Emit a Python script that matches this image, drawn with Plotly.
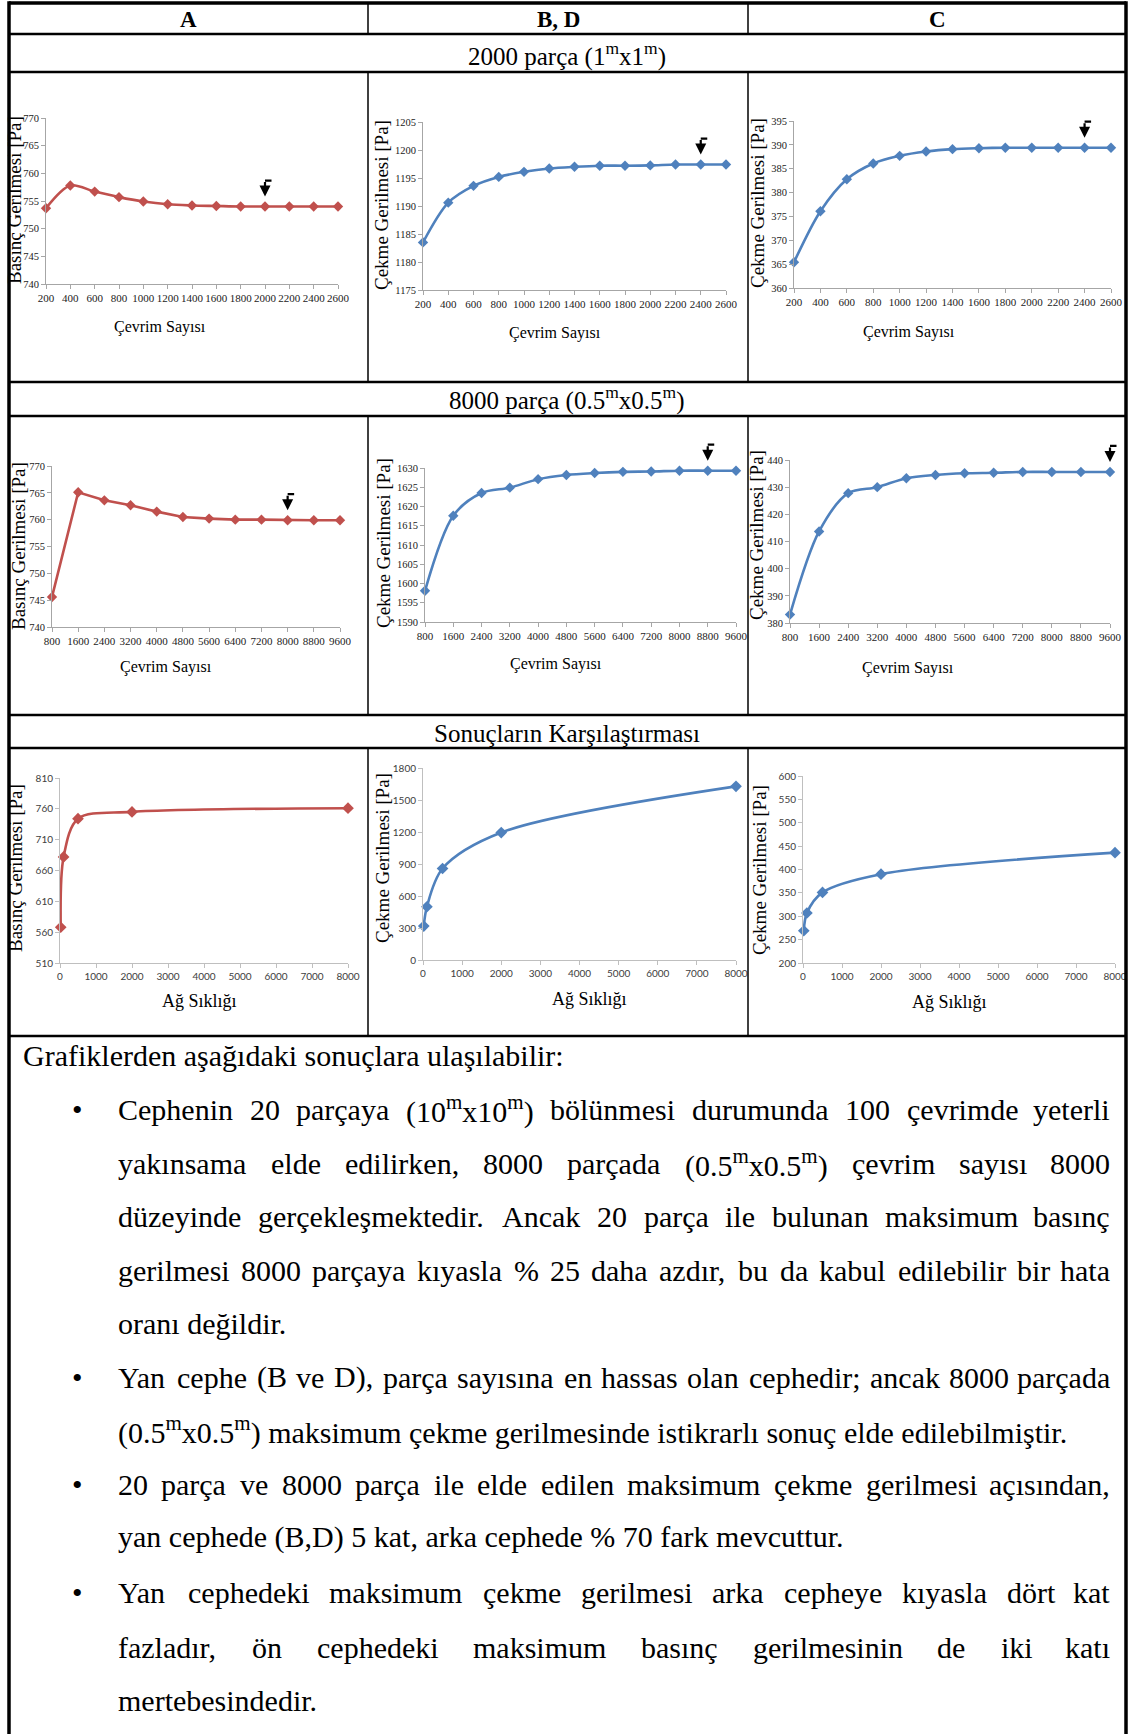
import re
import plotly.graph_objects as go

W, H = 1128, 1734
RED = "#C0504D"
BLUE = "#4F81BD"
SERIF = "Liberation Serif"
SANS = "Lato"

# ---------------- data ----------------
cycles_2000 = [200, 400, 600, 800, 1000, 1200, 1400, 1600, 1800, 2000, 2200, 2400, 2600]
a_2000 = [753.7, 757.8, 756.7, 755.7, 754.9, 754.4, 754.2, 754.1, 754.0, 754.0, 754.0, 754.0, 754.0]
bd_2000 = [1183.5, 1190.6, 1193.6, 1195.2, 1196.1, 1196.7, 1197.0, 1197.2, 1197.2, 1197.25, 1197.4, 1197.4, 1197.4]
c_2000 = [365.4, 376.1, 382.8, 386.1, 387.7, 388.6, 389.1, 389.3, 389.4, 389.4, 389.4, 389.4, 389.4]
conv_2000 = [2000, 2400, 2400]

cycles_8000 = [800, 1600, 2400, 3200, 4000, 4800, 5600, 6400, 7200, 8000, 8800, 9600]
a_8000 = [745.6, 765.1, 763.6, 762.7, 761.5, 760.5, 760.2, 760.0, 760.0, 759.9, 759.9, 759.9]
bd_8000 = [1598.1, 1617.6, 1623.5, 1624.9, 1627.1, 1628.2, 1628.7, 1629.0, 1629.1, 1629.3, 1629.3, 1629.3]
c_8000 = [383.1, 413.7, 427.8, 430.0, 433.3, 434.5, 435.1, 435.3, 435.6, 435.6, 435.6, 435.6]
conv_8000 = [8000, 8800, 9600]

mesh = [20, 100, 500, 2000, 8000]
a_mesh = [568, 682, 744, 755, 761]
bd_mesh = [318, 499, 858, 1195, 1628]
c_mesh = [269, 307, 351, 390, 436]
mesh_ticks = [0, 1000, 2000, 3000, 4000, 5000, 6000, 7000, 8000]

col_headers = ["A", "B, D", "C"]
row_headers = ["2000 parça (1<sup>m</sup>x1<sup>m</sup>)",
               "8000 parça (0.5<sup>m</sup>x0.5<sup>m</sup>)",
               "Sonuçların Karşılaştırması"]
y_comp = "Basınç Gerilmesi [Pa]"
y_tens = "Çekme Gerilmesi [Pa]"
x_cyc = "Çevrim Sayısı"
x_mesh = "Ağ Sıklığı"

intro = "Grafiklerden aşağıdaki sonuçlara ulaşılabilir:"
bullets = [
    [("Cephenin 20 parçaya (10<sup>m</sup>x10<sup>m</sup>) bölünmesi durumunda 100 çevrimde yeterli", True),
     ("yakınsama elde edilirken, 8000 parçada (0.5<sup>m</sup>x0.5<sup>m</sup>) çevrim sayısı 8000", True),
     ("düzeyinde gerçekleşmektedir. Ancak 20 parça ile bulunan maksimum basınç", True),
     ("gerilmesi 8000 parçaya kıyasla % 25 daha azdır, bu da kabul edilebilir bir hata", True),
     ("oranı değildir.", False)],
    [("Yan cephe (B ve D), parça sayısına en hassas olan cephedir; ancak 8000 parçada", True),
     ("(0.5<sup>m</sup>x0.5<sup>m</sup>) maksimum çekme gerilmesinde istikrarlı sonuç elde edilebilmiştir.", False)],
    [("20 parça ve 8000 parça ile elde edilen maksimum çekme gerilmesi açısından,", True),
     ("yan cephede (B,D) 5 kat, arka cephede % 70 fark mevcuttur.", False)],
    [("Yan cephedeki maksimum çekme gerilmesi arka cepheye kıyasla dört kat", True),
     ("fazladır, ön cephedeki maksimum basınç gerilmesinin de iki katı", True),
     ("mertebesindedir.", False)],
]

# ---------------- helpers (page px -> paper fraction) ----------------
def PX(v):
    return v / W


def PY(v):
    return 1 - v / H


fig = go.Figure()

panels = [
    (cycles_2000, a_2000, RED, (46, 118, 338, 284), [200, 2600], cycles_2000, [740, 770], 5, "spline",
     conv_2000[0], y_comp, (14, 200), x_cyc, (160, 327), 16, SERIF, "#a6a6a6"),
    (cycles_2000, bd_2000, BLUE, (423, 122, 726, 290), [200, 2600], cycles_2000, [1175, 1205], 5, "spline",
     conv_2000[1], y_tens, (381, 205), x_cyc, (555, 333), 16, SERIF, "#a6a6a6"),
    (cycles_2000, c_2000, BLUE, (794, 121, 1111, 288), [200, 2600], cycles_2000, [360, 395], 5, "spline",
     conv_2000[2], y_tens, (757, 203), x_cyc, (909, 332), 16, SERIF, "#a6a6a6"),
    (cycles_8000, a_8000, RED, (52, 466, 340, 627), [800, 9600], cycles_8000, [740, 770], 5, "linear",
     conv_8000[0], y_comp, (19, 546), x_cyc, (166, 667), 16, SERIF, "#a6a6a6"),
    (cycles_8000, bd_8000, BLUE, (425, 468, 736, 622), [800, 9600], cycles_8000, [1590, 1630], 5, "spline",
     conv_8000[1], y_tens, (383, 543), x_cyc, (556, 664), 16, SERIF, "#a6a6a6"),
    (cycles_8000, c_8000, BLUE, (790, 460, 1110, 623), [800, 9600], cycles_8000, [380, 440], 10, "spline",
     conv_8000[2], y_tens, (756, 535), x_cyc, (908, 668), 16, SERIF, "#a6a6a6"),
    (mesh, a_mesh, RED, (60, 778, 348, 963), [0, 8000], mesh_ticks, [510, 810], 50, "spline",
     None, y_comp, (15, 868), x_mesh, (199, 1001), 18, SANS, "#bfbfbf"),
    (mesh, bd_mesh, BLUE, (423, 768, 736, 960), [0, 8000], mesh_ticks, [0, 1800], 300, "spline",
     None, y_tens, (382, 858), x_mesh, (589, 999), 18, SANS, "#bfbfbf"),
    (mesh, c_mesh, BLUE, (803, 776, 1115, 963), [0, 8000], mesh_ticks, [200, 600], 50, "spline",
     None, y_tens, (759, 870), x_mesh, (949, 1002), 18, SANS, "#bfbfbf"),
]

for i, (xs, ys, col, box, xr, xt, yr, dt, shp, conv, yt, ytp, xtt, xtp, xts, tfam, acol) in enumerate(panels, start=1):
    sfx = "" if i == 1 else str(i)
    l, t, r, b = box
    fig.add_trace(go.Scatter(
        x=xs, y=ys, mode="lines+markers", xaxis="x" + sfx, yaxis="y" + sfx,
        line=dict(color=col, width=2.6, shape=shp, smoothing=0.9),
        marker=dict(symbol="diamond", size=8 if i <= 6 else 9, color=col),
        showlegend=False, hoverinfo="skip", cliponaxis=False))
    xsize = 11 if i <= 6 else 10
    ysize = 10.5 if i <= 6 else 10
    tcol = "#222222" if i <= 6 else "#404040"
    fig.layout["xaxis" + sfx] = dict(
        domain=[PX(l), PX(r)], anchor="y" + sfx, range=xr, tickvals=xt, tickangle=0,
        showline=True, linecolor=acol, linewidth=1, ticks="outside", ticklen=4, tickcolor=acol,
        showgrid=False, zeroline=False, tickfont=dict(family=tfam, size=xsize, color=tcol),
        fixedrange=True, automargin=False)
    fig.layout["yaxis" + sfx] = dict(
        domain=[PY(b), PY(t)], anchor="x" + sfx, range=yr, dtick=dt, tick0=yr[0],
        showline=True, linecolor=acol, linewidth=1, ticks="outside", ticklen=4, tickcolor=acol,
        showgrid=False, zeroline=False, tickfont=dict(family=tfam, size=ysize, color=tcol),
        fixedrange=True, automargin=False)
    fig.add_annotation(x=PX(ytp[0]), y=PY(ytp[1]), xref="paper", yref="paper", text=yt,
                       textangle=-90, showarrow=False, xanchor="center", yanchor="middle",
                       font=dict(family=SERIF, size=19, color="black"))
    fig.add_annotation(x=PX(xtp[0]), y=PY(xtp[1]), xref="paper", yref="paper", text=xtt,
                       showarrow=False, xanchor="center", yanchor="middle",
                       font=dict(family=SERIF, size=xts, color="black"))
    if conv is not None:
        cy = ys[xs.index(conv)]
        fig.add_annotation(x=conv, y=cy, xref="x" + sfx, yref="y" + sfx, text="",
                           showarrow=True, arrowhead=2, arrowsize=1, arrowwidth=2.2,
                           arrowcolor="black", ax=0, ay=-16, yshift=10, standoff=0)
        fig.add_annotation(x=conv, y=cy, xref="x" + sfx, yref="y" + sfx, text="",
                           showarrow=True, arrowhead=0, arrowwidth=2.2,
                           arrowcolor="black", ax=8, ay=0, yshift=26, standoff=0)

# ---------------- table lines ----------------
LEFT, RIGHT, TOP = 9, 1126, 3


def hline(y, w=2.5):
    fig.add_shape(type="line", xref="paper", yref="paper", x0=PX(LEFT), x1=PX(RIGHT), y0=PY(y), y1=PY(y),
                  line=dict(color="black", width=w))


def vline(x, y0, y1, w=1.5):
    fig.add_shape(type="line", xref="paper", yref="paper", x0=PX(x), x1=PX(x), y0=PY(y0), y1=PY(y1),
                  line=dict(color="black", width=w))


hline(TOP, w=3.5)
for yy in [34, 72, 382, 416, 715, 748, 1036]:
    hline(yy)
vline(LEFT, TOP - 1.7, H, w=3.5)
vline(RIGHT, TOP - 1.7, H, w=3.5)
for (y0, y1) in [(TOP, 34), (72, 382), (416, 715), (748, 1036)]:
    vline(368, y0, y1)
    vline(748, y0, y1)

for txt, cx in zip(col_headers, [188, 558, 937]):
    fig.add_annotation(x=PX(cx), y=PY(20), xref="paper", yref="paper", text="<b>" + txt + "</b>",
                       showarrow=False, xanchor="center", yanchor="middle",
                       font=dict(family=SERIF, size=23, color="black"))
for txt, cy in zip(row_headers, [54, 399, 733]):
    fig.add_annotation(x=PX(567), y=PY(cy), xref="paper", yref="paper", text=txt,
                       showarrow=False, xanchor="center", yanchor="middle",
                       font=dict(family=SERIF, size=25, color="black"))

# ---------------- body text ----------------
TIMES = {' ': 250, 'a': 444, 'b': 500, 'c': 444, 'd': 500, 'e': 444, 'f': 333, 'g': 500, 'h': 500,
         'i': 278, 'j': 278, 'k': 500, 'l': 278, 'm': 778, 'n': 500, 'o': 500, 'p': 500, 'q': 500,
         'r': 333, 's': 389, 't': 278, 'u': 500, 'v': 500, 'w': 722, 'x': 500, 'y': 500, 'z': 444,
         'ç': 444, 'ş': 389, 'ğ': 500, 'ı': 278, 'ö': 500, 'ü': 500,
         'A': 722, 'B': 667, 'C': 667, 'D': 722, 'E': 611, 'F': 556, 'G': 722, 'H': 722, 'I': 333,
         'J': 389, 'K': 722, 'L': 611, 'M': 889, 'N': 722, 'O': 722, 'P': 556, 'R': 667, 'S': 556,
         'T': 611, 'U': 722, 'V': 722, 'Y': 722, 'Z': 611, 'Ç': 667, 'İ': 333, 'Ş': 556,
         '(': 333, ')': 333, '.': 250, ',': 250, ':': 278, ';': 278, '%': 833, '[': 333, ']': 333}
for d in "0123456789":
    TIMES[d] = 500

FS = 30


def text_width(s, size):
    total, scale = 0.0, 1.0
    for tok in re.split(r'(<sup>|</sup>)', s):
        if tok == '<sup>':
            scale = 0.7
            continue
        if tok == '</sup>':
            scale = 1.0
            continue
        for ch in tok:
            total += TIMES.get(ch, 500) * scale
    return total * size / 1000


def add_text(s, x, y, anchor):
    fig.add_annotation(x=PX(x), y=PY(y), xref="paper", yref="paper", text=s, showarrow=False,
                       xanchor=anchor, yanchor="middle", borderpad=0,
                       font=dict(family=SERIF, size=FS, color="black"))


X0, X1 = 117, 1111
add_text(intro, 22, 1055, "left")
line_y = [1109, 1163, 1216, 1270, 1323, 1377, 1430, 1484, 1537, 1592, 1647, 1700]
k = 0
for bl in bullets:
    add_text("•", 77, line_y[k], "center")
    for txt, just in bl:
        y = line_y[k]
        if not just:
            add_text(txt, X0, y, "left")
        else:
            words = txt.split(' ')
            widths = [text_width(w, FS) for w in words]
            gap = (X1 - X0 - sum(widths)) / (len(words) - 1)
            x = X0
            for j, (w, wd) in enumerate(zip(words, widths)):
                if j == len(words) - 1:
                    add_text(w, X1, y, "right")
                else:
                    add_text(w, x, y, "left")
                x += wd + gap
        k += 1

fig.update_layout(width=W, height=H, autosize=False,
                  margin=dict(l=0, r=0, t=0, b=0, pad=0, autoexpand=False),
                  paper_bgcolor="white", plot_bgcolor="white", showlegend=False)

fig.write_html("out.html", config={"responsive": False, "displayModeBar": False},
               default_width="1128px", default_height="1734px",
               post_script="document.body.style.margin='0';document.documentElement.style.overflow='hidden';")
